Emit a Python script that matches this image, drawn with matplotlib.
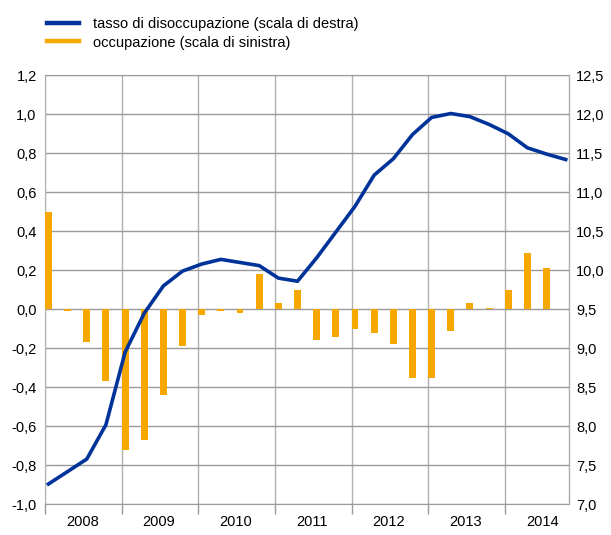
import numpy as np
import matplotlib.pyplot as plt
from matplotlib.lines import Line2D
from matplotlib.ticker import FuncFormatter, FixedLocator

plt.rcParams['font.family'] = ['Liberation Sans', 'DejaVu Sans']

# anni e dati trimestrali (2008T1 - 2014T4)
anni = ['2008', '2009', '2010', '2011', '2012', '2013', '2014']
occupazione = [0.50, -0.01, -0.17, -0.37,
               -0.72, -0.67, -0.44, -0.19,
               -0.03, -0.01, -0.02, 0.18,
               0.03, 0.10, -0.16, -0.14,
               -0.10, -0.12, -0.18, -0.35,
               -0.35, -0.11, 0.03, 0.005,
               0.10, 0.29, 0.21]
disoccupazione = [7.26, 7.42, 7.58, 8.02,
                  8.95, 9.45, 9.80, 9.99,
                  10.08, 10.14, 10.10, 10.06,
                  9.90, 9.86, 10.16, 10.49,
                  10.82, 11.22, 11.43, 11.74,
                  11.96, 12.01, 11.97, 11.87,
                  11.75, 11.57, 11.49, 11.42]

col_bar = '#f7a800'
col_line = '#003399'
col_grid = '#9a9a9a'

fig = plt.figure(figsize=(6.11, 5.35), dpi=100)
ax = fig.add_axes([45/611, 1-504.3/535, (569-45)/611, (504.3-75.3)/535])

larg = 0.36
xb = np.arange(len(occupazione))
ax.bar(xb, occupazione, width=larg, align='edge', color=col_bar, zorder=3)

ax.set_xlim(0, 27.35)
ax.set_ylim(-1.0, 1.2)
ax.set_yticks(np.round(np.arange(-1.0, 1.21, 0.2), 1))
fmt = FuncFormatter(lambda v, p: f"{round(v, 1) + 0.0:.1f}".replace('.', ','))
ax.yaxis.set_major_formatter(fmt)
ax.grid(axis='y', color=col_grid, linewidth=1, zorder=0)

# confini degli anni
ax.set_xticks(np.arange(0, 25, 4))
ax.set_xticklabels([])
ax.xaxis.set_minor_locator(FixedLocator(np.arange(len(anni)) * 4 + 1.95))
ax.set_xticklabels(anni, minor=True)
ax.tick_params(axis='x', which='major', length=7, color=col_grid, width=1)
ax.tick_params(axis='x', which='minor', length=0, pad=8, labelsize=10.5)
ax.grid(axis='x', which='major', color='#b0b0b0', linewidth=1, zorder=0)
ax.tick_params(axis='y', length=0, pad=6, labelsize=10.5)
ax.spines['top'].set_color(col_grid)
ax.spines['bottom'].set_color(col_grid)
ax.spines['left'].set_color('#b0b0b0')

ax2 = ax.twinx()
xl = np.arange(len(disoccupazione)) + larg / 2
ax2.plot(xl, disoccupazione, color=col_line, linewidth=2.6, solid_joinstyle='round', zorder=4)
ax2.set_ylim(7.0, 12.5)
ax2.set_yticks(np.arange(7.0, 12.51, 0.5))
ax2.yaxis.set_major_formatter(fmt)
ax2.tick_params(axis='y', length=0, pad=5, labelsize=10.5)
for s in ['top', 'bottom', 'left']:
    ax2.spines[s].set_visible(False)
ax2.spines['right'].set_color('#b0b0b0')

handles = [Line2D([], [], color=col_line, linewidth=3.2),
           Line2D([], [], color=col_bar, linewidth=3.2)]
etichette = ['tasso di disoccupazione (scala di destra)',
             'occupazione (scala di sinistra)']
fig.legend(handles, etichette, loc='upper left', bbox_to_anchor=(34/611, 1 - 4/535),
           frameon=False, fontsize=10.5, handlelength=2.2, handletextpad=0.95,
           labelspacing=0.3)

fig.savefig('out.png', dpi=100)
